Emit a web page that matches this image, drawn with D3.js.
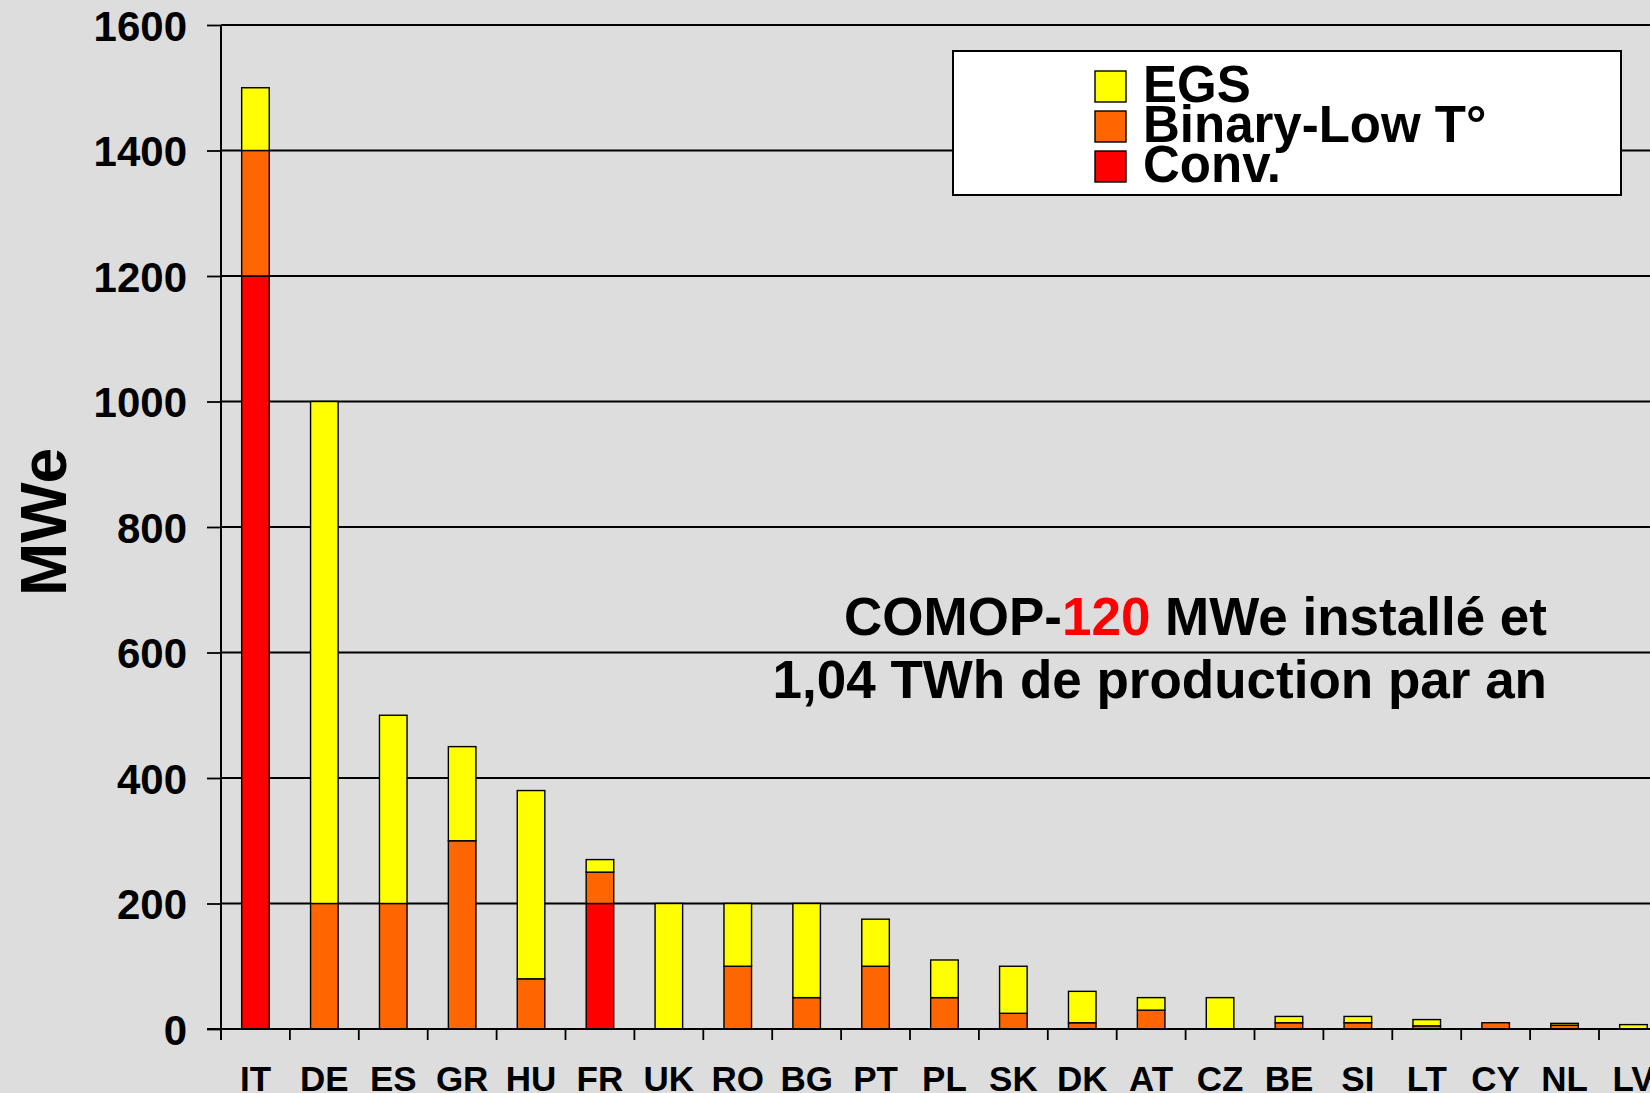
<!DOCTYPE html>
<html>
<head>
<meta charset="utf-8">
<script src="https://cdn.jsdelivr.net/npm/d3@7"></script>
<style>
  html, body { margin: 0; padding: 0; background: #DDDDDD; overflow: hidden; }
  svg { display: block; }
  text { font-family: "Liberation Sans", Arial, Helvetica, sans-serif; font-weight: bold; fill: #000; }
</style>
</head>
<body>
<svg id="chart" width="1650" height="1093"></svg>
<script>
const categories = ["IT","DE","ES","GR","HU","FR","UK","RO","BG","PT","PL","SK","DK","AT","CZ","BE","SI","LT","CY","NL","LV"];
const conv   = [1200,   0,   0,   0,   0, 200,   0,   0,   0,   0,  0,  0,  0,  0,  0,  0,  0,  0,  0, 0, 0];
const binary = [ 200, 200, 200, 300,  80,  50,   0, 100,  50, 100, 50, 25, 10, 30,  0, 10, 10,  5, 10, 6, 0];
const egs    = [ 100, 800, 300, 150, 300,  20, 200, 100, 150,  75, 60, 75, 50, 20, 50, 10, 10, 10,  0, 3, 7];
const yTicks = [0, 200, 400, 600, 800, 1000, 1200, 1400, 1600];
const seriesKeys   = ["conv", "binary", "egs"];
const legendLabels = ["EGS", "Binary-Low T°", "Conv."];
const noteLine1 = ["COMOP-", "120", " MWe installé et"];
const noteLine2 = "1,04 TWh de production par an";
const yTitle = "MWe";

(function () {
const colors = { conv: "#FF0000", binary: "#FF6600", egs: "#FFFF00" };

const svg = d3.select("#chart");
svg.append("rect").attr("width", 1650).attr("height", 1093).attr("fill", "#DDDDDD");

const pLeft = 221, step = 68.9, pTop = 25, pBottom = 1029;
const pRight = pLeft + step * categories.length;

const y = d3.scaleLinear().domain([0, 1600]).range([pBottom, pTop]);
const xb = d3.scaleBand().domain(categories).range([pLeft, pRight]).padding(0);
const x = d3.scaleBand().domain(categories).range([pLeft, pRight]).paddingInner(0.6).paddingOuter(0.3);

// gridlines
svg.append("g").selectAll("line").data(yTicks.filter(v => v > 0)).join("line")
  .attr("x1", pLeft).attr("x2", 1650)
  .attr("y1", d => y(d)).attr("y2", d => y(d))
  .attr("stroke", "#000").attr("stroke-width", 1.8);

// stacked bars
const table = categories.map((c, i) => ({ cat: c, conv: conv[i], binary: binary[i], egs: egs[i] }));
const stacked = d3.stack().keys(seriesKeys)(table);
const barG = svg.append("g");
stacked.forEach(layer => {
  barG.append("g").selectAll("rect")
    .data(layer.filter(d => d[1] - d[0] > 0))
    .join("rect")
    .attr("x", d => x(d.data.cat))
    .attr("width", x.bandwidth())
    .attr("y", d => y(d[1]))
    .attr("height", d => y(d[0]) - y(d[1]))
    .attr("fill", colors[layer.key])
    .attr("stroke", "#000").attr("stroke-width", 1.4);
});

// y axis
const yAxis = d3.axisLeft(y).tickValues(yTicks).tickSize(14).tickPadding(20).tickFormat(d3.format("d"));
const yg = svg.append("g").attr("transform", `translate(${pLeft},0)`).call(yAxis);
yg.select(".domain").attr("stroke", "#000").attr("stroke-width", 2).attr("d", `M0,${pTop}V${pBottom + 11}`);
yg.selectAll(".tick line").attr("stroke", "#000").attr("stroke-width", 1.8);
yg.selectAll(".tick text").attr("font-size", 42).attr("dy", "0.36em")
  .style("font-family", "'Liberation Sans', Arial, sans-serif").style("font-weight", "bold").attr("fill", "#000");

// x axis
const xAxis = d3.axisBottom(xb).tickSize(0).tickPadding(0);
const xg = svg.append("g").attr("transform", `translate(0,${pBottom})`).call(xAxis);
xg.select(".domain").attr("stroke", "#000").attr("stroke-width", 2).attr("d", `M${pLeft - 14},0H1650`);
xg.selectAll(".tick text").attr("font-size", 35).attr("y", 62).attr("dy", 0)
  .style("font-family", "'Liberation Sans', Arial, sans-serif").style("font-weight", "bold").attr("fill", "#000");
// boundary ticks
const bounds = categories.map(c => xb(c)).concat([pRight]);
xg.append("g").selectAll("line").data(bounds).join("line")
  .attr("x1", d => d).attr("x2", d => d).attr("y1", 0).attr("y2", 11)
  .attr("stroke", "#000").attr("stroke-width", 1.8);

// y title
svg.append("text").attr("transform", "translate(66,522) rotate(-90)")
  .attr("text-anchor", "middle").attr("font-size", 64).text(yTitle);

// legend
const lg = svg.append("g");
lg.append("rect").attr("x", 953).attr("y", 51).attr("width", 668).attr("height", 144)
  .attr("fill", "#FFFFFF").attr("stroke", "#000").attr("stroke-width", 2);
const legendKeys = ["egs", "binary", "conv"];
legendKeys.forEach((k, i) => {
  lg.append("rect").attr("x", 1095).attr("y", 71 + i * 40).attr("width", 31).attr("height", 31)
    .attr("fill", colors[k]).attr("stroke", "#000").attr("stroke-width", 1.4);
  lg.append("text").attr("x", 1143).attr("y", 102 + i * 40).attr("font-size", 51).text(legendLabels[i]);
});

// annotation
const t1 = svg.append("text").attr("x", 1547).attr("y", 635).attr("text-anchor", "end").attr("font-size", 53);
t1.append("tspan").text(noteLine1[0]);
t1.append("tspan").style("fill", "#FF0000").text(noteLine1[1]);
t1.append("tspan").text(noteLine1[2]);
svg.append("text").attr("x", 1547).attr("y", 698).attr("text-anchor", "end").attr("font-size", 53).text(noteLine2);
})();
</script>
</body>
</html>
